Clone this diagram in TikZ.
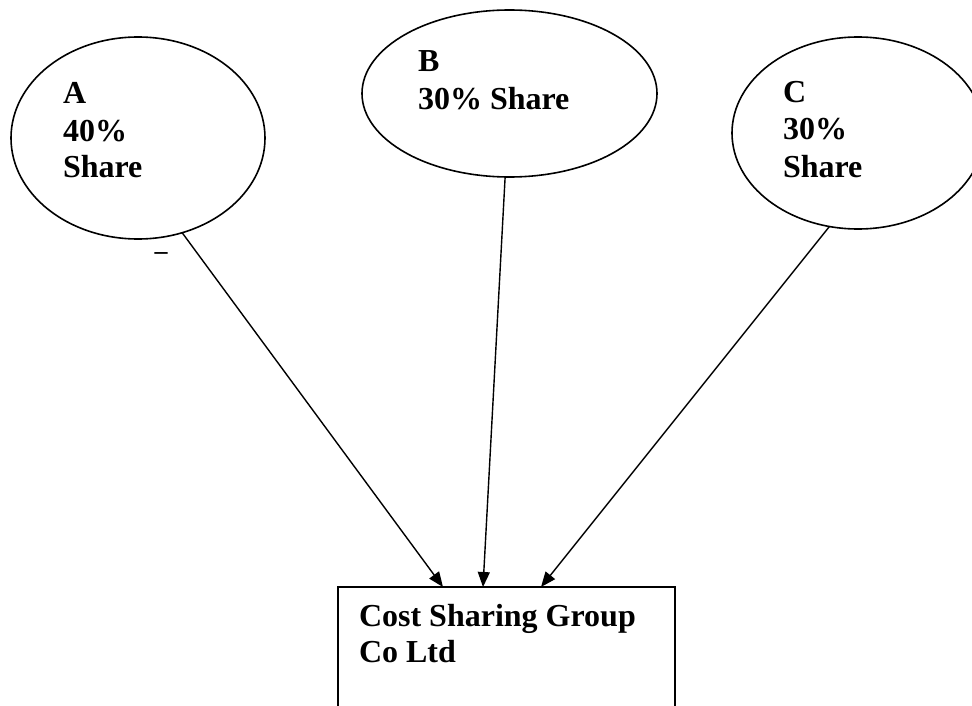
\documentclass[tikz,border=0pt]{standalone}
\usepackage{fontspec}
\setmainfont{Liberation Serif}
\usetikzlibrary{shapes.geometric,arrows.meta}
\begin{document}
\begin{tikzpicture}[x=1pt,y=-1pt,
  oval/.style={draw=black,line width=1.6pt,ellipse,inner sep=0pt,outer sep=0pt},
  lbl/.style={anchor=base west,inner sep=0pt,outer sep=0pt,font=\bfseries\fontsize{32}{38}\selectfont},
  boxlbl/.style={anchor=base west,inner sep=0pt,outer sep=0pt,font=\bfseries\fontsize{32}{38}\selectfont},
  arr/.style={draw=black,line width=1.4pt,-{Triangle[length=15pt,width=12pt]}}]
\useasboundingbox (0,0) rectangle (972,706);
\clip (0,0) rectangle (972,706);
\fill[white] (0,0) rectangle (972,706);
% ovals
\node[oval,minimum width=254pt,minimum height=202pt] (A) at (138,138) {};
\node[oval,minimum width=295pt,minimum height=167pt] (B) at (509.5,93.5) {};
\node[oval,minimum width=252pt,minimum height=192pt] (C) at (858,133) {};
% box
\node[draw=black,line width=1.6pt,minimum width=337pt,minimum height=160pt,anchor=north west,inner sep=0pt,outer sep=0pt] (box) at (338,587) {};
% texts
\node[lbl] (a1) at (63,104) {A};
\node[lbl] (a2) at (63,142) {40\%};
\node[lbl] (a3) at (63,178) {Share};
\node[lbl] (b1) at (418,72) {B};
\node[lbl] (b2) at (418,110) {30\% Share};
\node[lbl] (c1) at (783,103) {C};
\node[lbl] (c2) at (783,140) {30\%};
\node[lbl] (c3) at (783,177) {Share};
\node[boxlbl] (d1) at (359,626) {Cost Sharing Group};
\node[boxlbl] (d2) at (359,662) {Co Ltd};
\node[anchor=base,inner sep=0pt,font=\bfseries\fontsize{26}{30}\selectfont] (dash) at (161,259) {–};
% connectors
\draw[arr] (A.-65.2) -- ([xshift=105pt]box.north west);
\draw[arr] (B.-93) -- ([xshift=145pt]box.north west);
\draw[arr] (C.-107.4) -- ([xshift=203pt]box.north west);
\end{tikzpicture}
\end{document}
